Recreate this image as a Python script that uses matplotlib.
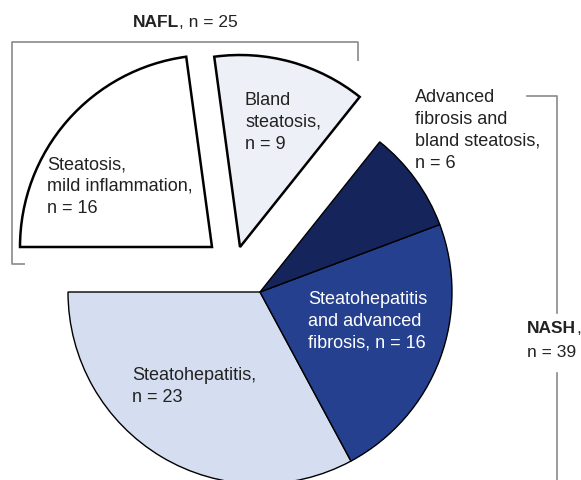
import matplotlib
matplotlib.use("Agg")
import matplotlib.pyplot as plt

plt.rcParams['font.family'] = ['Liberation Sans', 'DejaVu Sans']

# Data
categories = ["Steatohepatitis", "Steatohepatitis and advanced fibrosis",
              "Advanced fibrosis and bland steatosis", "Bland steatosis",
              "Steatosis, mild inflammation"]
counts = [23, 16, 6, 9, 16]
labels = ["Steatohepatitis,\nn = 23",
          "Steatohepatitis\nand advanced\nfibrosis, n = 16",
          "Advanced\nfibrosis and\nbland steatosis,\nn = 6",
          "Bland\nsteatosis,\nn = 9",
          "Steatosis,\nmild inflammation,\nn = 16"]
nafl_n = 25
nash_n = 39

# Styles / layout (pixel coordinates, converted to y-up)
colors = ["#d5def0", "#25408f", "#15245a", "#eef0f8", "#ffffff"]
text_colors = ["#222222", "#ffffff", "#222222", "#222222", "#222222"]
H = 481
center = (260, H - 293)
radius = 192
offsets = [(0, 0), (0, 0), (0, 0), (-20, 45), (-48, 45)]
edge_lw = [1.0, 1.0, 1.0, 1.8, 1.8]
label_top = [(132, 367), (308, 291), (415, 89), (245, 92), (47, 156)]

fig = plt.figure(figsize=(5.81, 4.81), dpi=100)
ax = fig.add_axes([0, 0, 1, 1])

wedges, _ = ax.pie(counts, colors=colors, startangle=180, counterclock=True,
                   center=center, radius=radius, frame=True,
                   wedgeprops=dict(edgecolor='black'))
ax.set_xlim(0, 581)
ax.set_ylim(0, H)
ax.set_aspect('equal')
ax.axis('off')
for w, (dx, dy), lw in zip(wedges, offsets, edge_lw):
    w.set_center((center[0] + dx, center[1] + dy))
    w.set_linewidth(lw)

fs = 13
for lab, (x, y), tc in zip(labels, label_top, text_colors):
    ax.text(x, H - y, lab, fontsize=fs, color=tc, ha='left', va='top',
            linespacing=1.38)

# Brackets
gray = "#8a8a8a"
ax.plot([25, 12, 12, 358, 358], [H - 265, H - 265, H - 43, H - 43, H - 62],
        color=gray, lw=1.2, solid_capstyle='butt')
ax.plot([527, 557, 557], [H - 97, H - 97, H - 314], color=gray, lw=1.2)
ax.plot([557, 557], [H - 374, 0], color=gray, lw=1.2)

# Group titles
gfs = 12.5
t1 = ax.text(133, H - 27, "NAFL", fontsize=gfs, fontweight='bold', ha='left',
             va='baseline', color='#222222')
ax.annotate(f", n = {nafl_n}", xycoords=t1, xy=(1, 0), va='bottom', ha='left',
            fontsize=gfs, color='#222222')
t2 = ax.text(527, H - 333, "NASH", fontsize=gfs, fontweight='bold', ha='left',
             va='baseline', color='#222222')
ax.annotate(",", xycoords=t2, xy=(1, 0), va='bottom', ha='left', fontsize=gfs,
            color='#222222')
ax.text(527, H - 357, f"n = {nash_n}", fontsize=gfs, ha='left', va='baseline',
        color='#222222')

fig.savefig("out.png", dpi=100)
